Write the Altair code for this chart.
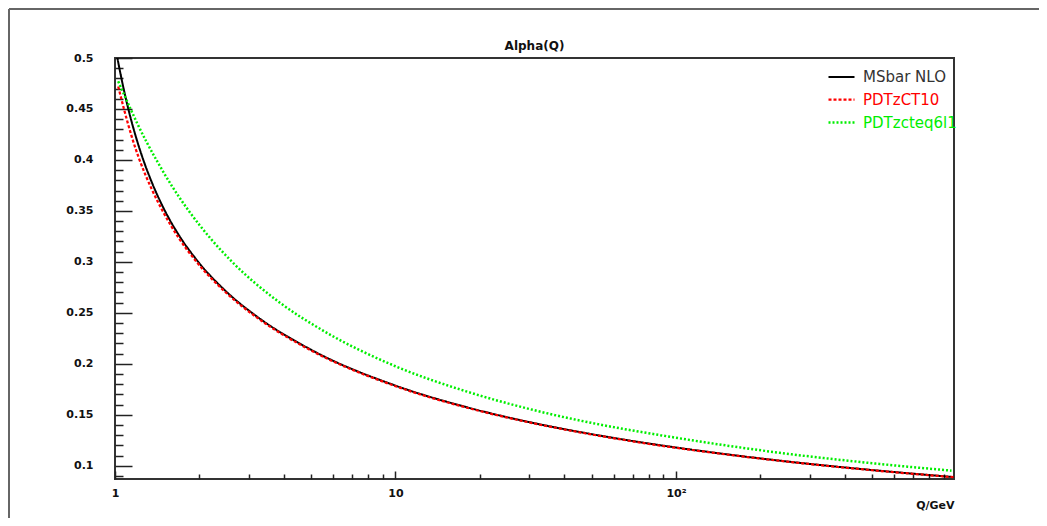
import altair as alt
import pandas as pd

# ---- data ----
series_names = ["MSbar NLO", "PDTzCT10", "PDTzcteq6l1"]

q_msbar = [1.0, 1.02, 1.06, 1.115, 1.19, 1.262, 1.38, 1.507, 1.7, 1.955, 2.5, 3.2, 5,
           10, 18, 30, 50, 88, 150, 254, 500, 976]
a_msbar = [0.5132, 0.500, 0.4769, 0.4503, 0.4217, 0.3999, 0.3724, 0.3500, 0.3250, 0.3019,
           0.2705, 0.2465, 0.2138, 0.1786, 0.1573, 0.1428, 0.1310, 0.1201, 0.1114, 0.1039,
           0.0958, 0.0889]

q_ct10 = [1.027, 1.077, 1.15, 1.22, 1.35, 1.48, 1.7, 1.955, 2.5, 3.2, 5, 10, 18, 30, 50,
          88, 150, 254, 500, 976]
a_ct10 = [0.4720, 0.4497, 0.4219, 0.4009, 0.3717, 0.3497, 0.3221, 0.2999, 0.2692, 0.2455,
          0.2131, 0.1781, 0.1569, 0.1425, 0.1307, 0.1198, 0.1112, 0.1038, 0.0956, 0.0888]

q_cteq = [1.027, 1.137, 1.2, 1.408, 1.6, 1.83, 2.2, 2.6, 3.87, 5.5, 10, 18, 30.3, 55,
          88, 150, 254, 500, 960]
a_cteq = [0.4771, 0.4498, 0.4359, 0.3995, 0.3739, 0.3503, 0.3224, 0.3007, 0.2600, 0.2328,
          0.1976, 0.1727, 0.1554, 0.1398, 0.1300, 0.1200, 0.1115, 0.1025, 0.0952]

x_major = [1, 10, 100]
x_minor = [2, 3, 4, 5, 6, 7, 8, 9, 20, 30, 40, 50, 60, 70, 80, 90,
           200, 300, 400, 500, 600, 700, 800, 900]
y_major = [0.1, 0.15, 0.2, 0.25, 0.3, 0.35, 0.4, 0.45, 0.5]
y_minor = [0.09, 0.11, 0.12, 0.13, 0.14, 0.16, 0.17, 0.18, 0.19, 0.21, 0.22, 0.23, 0.24,
           0.26, 0.27, 0.28, 0.29, 0.31, 0.32, 0.33, 0.34, 0.36, 0.37, 0.38, 0.39,
           0.41, 0.42, 0.43, 0.44, 0.46, 0.47, 0.48, 0.49]

rows = []
for name, qs, vals in zip(series_names, [q_msbar, q_ct10, q_cteq], [a_msbar, a_ct10, a_cteq]):
    for q, a in zip(qs, vals):
        rows.append({"series": name, "Q": q, "alpha": a})
df = pd.DataFrame(rows)

W, H = 839, 421
FONT = "DejaVu Sans"

xscale = alt.Scale(type="log", domain=[1, 980], nice=False)
yscale = alt.Scale(domain=[0.087, 0.5], nice=False, zero=False)

label_color_expr = ("datum.label == 'PDTzCT10' ? '#ff0000' : "
                    "(datum.label == 'PDTzcteq6l1' ? '#00ee00' : '#333333')")

lines = alt.Chart(df).mark_line(clip=True, interpolate="monotone").encode(
    x=alt.X("Q:Q", scale=xscale,
            axis=alt.Axis(orient="bottom", values=x_major, tickSize=8, offset=-8,
                          domain=False, grid=False, labelPadding=8,
                          labelExpr="datum.value >= 100 ? '10²' : format(datum.value, 'd')",
                          labelFont=FONT, labelFontWeight="bold", labelFontSize=11,
                          labelColor="#111", labelFlush=False, labelOverlap=False,
                          tickColor="#222", tickWidth=1.5,
                          title="Q/GeV", titleFont=FONT, titleFontWeight="bold",
                          titleFontSize=11, titleColor="#111", titleX=W, titleY=34,
                          titleAlign="right", titleBaseline="middle")),
    y=alt.Y("alpha:Q", scale=yscale,
            axis=alt.Axis(orient="left", values=y_major, tickSize=17, offset=-17,
                          domain=False, grid=False, labelPadding=22, format="~g",
                          labelFont=FONT, labelFontWeight="bold", labelFontSize=11,
                          labelColor="#111", labelFlush=False, labelOverlap=False,
                          tickColor="#222", tickWidth=1.5, title=None)),
    color=alt.Color("series:N", sort=series_names,
                    scale=alt.Scale(domain=series_names,
                                    range=["#000000", "#ff0000", "#00ee00"]),
                    legend=alt.Legend(orient="none", legendX=712, legendY=5, title=None,
                                      symbolType="stroke", symbolSize=676,
                                      symbolStrokeWidth=2.5, labelFont=FONT,
                                      labelFontSize=15, labelOffset=7, rowPadding=0,
                                      labelColor=alt.ExprRef(expr=label_color_expr))),
    strokeDash=alt.StrokeDash("series:N", sort=series_names,
                              scale=alt.Scale(domain=series_names,
                                              range=[[1, 0], [3, 2], [2, 2]])),
    strokeWidth=alt.StrokeWidth("series:N", sort=series_names,
                                scale=alt.Scale(domain=series_names, range=[2, 2.5, 2]),
                                legend=None),
    order=alt.Order("Q:Q"),
)

minor = alt.Chart(df).mark_point(opacity=0).encode(
    x=alt.X("Q:Q", scale=xscale,
            axis=alt.Axis(orient="bottom", values=x_minor, tickSize=5, offset=-5,
                          domain=False, grid=False, labels=False, title=None,
                          tickColor="#222", tickWidth=1.5)),
    y=alt.Y("alpha:Q", scale=yscale,
            axis=alt.Axis(orient="left", values=y_minor, tickSize=8, offset=-8,
                          domain=False, grid=False, labels=False, title=None,
                          tickColor="#222", tickWidth=1.5)),
)

frame_df = pd.DataFrame({"k": [0]})
frame_top = alt.Chart(frame_df).mark_rule(color="#666", strokeWidth=2, clip=False).encode(
    x=alt.value(-106), x2=alt.value(930), y=alt.value(-49))
frame_left = alt.Chart(frame_df).mark_rule(color="#666", strokeWidth=2, clip=False).encode(
    x=alt.value(-106), y=alt.value(-49), y2=alt.value(470))

chart = alt.layer(lines, minor, frame_top, frame_left).resolve_axis(
    x="independent", y="independent"
).properties(
    width=W, height=H,
    title=alt.TitleParams("Alpha(Q)", font=FONT, fontWeight="bold", fontSize=12,
                          color="#111", anchor="middle", frame="group", offset=-45),
    autosize=alt.AutoSizeParams(type="none"),
    padding={"left": 107, "top": 50, "right": 85, "bottom": 39},
    background="white",
).configure_view(stroke="#333", strokeWidth=2)

chart.save("out.html", embed_options={"renderer": "svg", "actions": False})
